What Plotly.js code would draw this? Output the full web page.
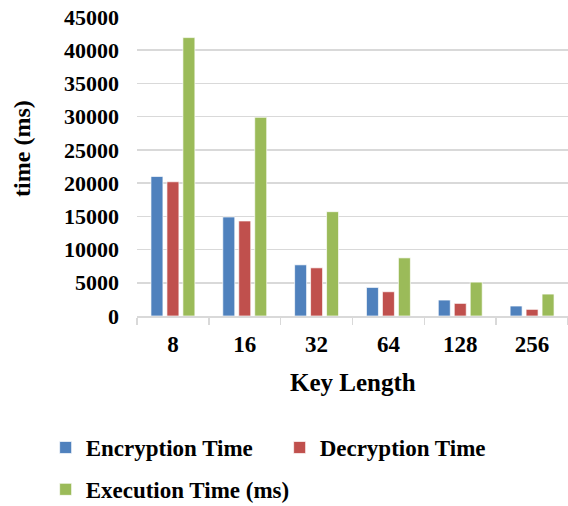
<!DOCTYPE html>
<html>
<head>
<meta charset="utf-8">
<script src="https://cdn.plot.ly/plotly-3.0.1.min.js"></script>
<style>
  html, body { margin: 0; padding: 0; background: #ffffff; }
  #chart { width: 568px; height: 506px; }
</style>
</head>
<body>
<div id="chart"></div>
<script>
// Key lengths on the x axis
const keyLengths = ['8', '16', '32', '64', '128', '256'];

// Timings in milliseconds for each key length
const encryptionTime = [21000, 14900, 7700, 4300, 2400, 1500];
const decryptionTime = [20200, 14300, 7250, 3650, 1900, 1000];
const executionTime  = [41900, 29900, 15700, 8750, 5100, 3300];

// Y axis tick values
const yTicks = [0, 5000, 10000, 15000, 20000, 25000, 30000, 35000, 40000, 45000];

const serif = '"Times New Roman", "Liberation Serif", Times, serif';
const edge = { color: 'rgba(255,255,255,0.85)', width: 0.8 };

// The first two series share the top legend row, the third sits on its own row
const traces = [
  { name: 'Encryption Time', y: encryptionTime, color: '#4F81BD', legend: 'legend' },
  { name: 'Decryption Time', y: decryptionTime, color: '#C0504D', legend: 'legend' },
  { name: 'Execution Time (ms)', y: executionTime, color: '#9BBB59', legend: 'legend2' }
].map(s => ({
  type: 'bar',
  name: s.name,
  x: keyLengths,
  y: s.y,
  legend: s.legend,
  marker: { color: s.color, line: edge },
  hoverinfo: 'x+y+name'
}));

const legendFont = { family: serif, size: 23, weight: 700, color: '#000000' };

const layout = {
  width: 568,
  height: 506,
  margin: { l: 137, r: 0, t: 17, b: 190, autoexpand: false },
  paper_bgcolor: '#ffffff',
  plot_bgcolor: '#ffffff',
  barmode: 'group',
  bargap: 0.333,
  bargroupgap: 0.25,
  font: { family: serif, color: '#000000', size: 22, weight: 700 },
  xaxis: {
    type: 'category',
    tickson: 'boundaries',
    ticks: 'outside',
    ticklen: 7,
    tickwidth: 1.5,
    tickcolor: '#D9D9D9',
    showline: true,
    linecolor: '#D9D9D9',
    linewidth: 1.5,
    showgrid: false,
    zeroline: false,
    ticklabelstandoff: 7,
    tickfont: { family: serif, size: 23, weight: 'bold', color: '#000000' }
  },
  yaxis: {
    range: [0, 45000],
    tickvals: yTicks,
    ticktext: yTicks.map(String),
    showgrid: true,
    gridcolor: '#D9D9D9',
    gridwidth: 1.5,
    zeroline: false,
    showline: false,
    ticks: '',
    ticklabelstandoff: 17,
    tickfont: { family: serif, size: 22, weight: 'bold', color: '#000000' }
  },
  annotations: [
    {
      text: 'time (ms)',
      xref: 'paper', yref: 'paper',
      x: -0.267, y: 0.562,
      xanchor: 'center', yanchor: 'middle',
      textangle: -90,
      showarrow: false,
      font: { family: serif, size: 24, weight: 700, color: '#000000' }
    },
    {
      text: 'Key Length',
      xref: 'paper', yref: 'paper',
      x: 0.5, y: -0.224,
      xanchor: 'center', yanchor: 'middle',
      showarrow: false,
      font: { family: serif, size: 25, weight: 700, color: '#000000' }
    }
  ],
  showlegend: true,
  legend: {
    orientation: 'h',
    x: -0.212,
    xanchor: 'left',
    y: -0.368,
    yanchor: 'top',
    entrywidthmode: 'pixels',
    entrywidth: 189,
    font: legendFont,
    bgcolor: 'rgba(0,0,0,0)'
  },
  legend2: {
    orientation: 'h',
    x: -0.212,
    xanchor: 'left',
    y: -0.508,
    yanchor: 'top',
    font: legendFont,
    bgcolor: 'rgba(0,0,0,0)'
  }
};

Plotly.newPlot('chart', traces, layout, { displayModeBar: false, staticPlot: true });
</script>
</body>
</html>
